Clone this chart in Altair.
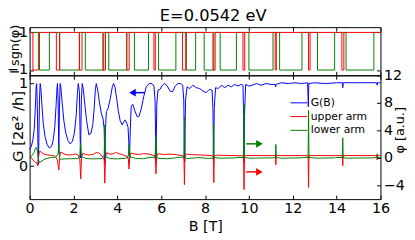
import altair as alt
import pandas as pd

# ---------------- values ----------------
B_ticks = [0, 2, 4, 6, 8, 10, 12, 14, 16]
G_ticks = [0, 1]
phi_ticks = [-4, 0, 4, 8, 12]
sgn_ticks = [-1, 1]

# G(B) (left axis, units 2e^2/h)
B_G = [0.00, 0.08, 0.15, 0.21, 0.26, 0.30, 0.32, 0.35, 0.38, 0.40,
       0.42, 0.45, 0.48, 0.51, 0.56, 0.62, 0.70, 0.80, 0.90, 1.00,
       1.08, 1.15, 1.21, 1.25, 1.27, 1.30, 1.33, 1.36, 1.39, 1.42,
       1.48, 1.56, 1.65, 1.75, 1.85, 1.95, 2.04, 2.12, 2.18, 2.22,
       2.27, 2.32, 2.36, 2.40, 2.45, 2.52, 2.60, 2.70, 2.80, 2.88,
       2.95, 3.00, 3.04, 3.10, 3.18, 3.27, 3.35, 3.40, 3.43, 3.46,
       3.50, 3.58, 3.68, 3.77, 3.83, 3.89, 3.97, 4.05, 4.13, 4.22,
       4.30, 4.36, 4.43, 4.49, 4.52, 4.55, 4.58, 4.63, 4.70, 4.80,
       4.90, 4.98, 5.08, 5.20, 5.32, 5.45, 5.58, 5.67, 5.72, 5.76,
       5.80, 5.85, 5.95, 6.05, 6.15, 6.28, 6.40, 6.52, 6.62, 6.75,
       6.88, 6.98, 7.03, 7.07, 7.11, 7.18, 7.30, 7.45, 7.60, 7.75,
       7.90, 8.05, 8.20, 8.32, 8.36, 8.39, 8.42, 8.48, 8.60, 8.75,
       8.90, 9.05, 9.20, 9.35, 9.50, 9.65, 9.73, 9.76, 9.78, 9.80,
       9.85, 10.00, 10.15, 10.35, 10.55, 10.78, 11.00, 11.20, 11.22, 11.24,
       11.50, 11.80, 12.10, 12.40, 12.68, 12.71, 12.73, 13.00, 13.50, 14.00,
       14.26, 14.28, 14.30, 14.80, 15.30, 15.83, 15.85, 15.87, 16.00]
G_vals = [0.20, 0.24, 0.32, 0.45, 0.70, 0.97, 1.00, 0.75, 0.25, 0.02,
          0.30, 0.80, 1.00, 0.95, 0.75, 0.52, 0.36, 0.26, 0.22, 0.24,
          0.32, 0.48, 0.75, 0.95, 1.00, 0.80, 0.15, 0.70, 1.00, 0.97,
          0.78, 0.55, 0.40, 0.31, 0.27, 0.30, 0.40, 0.60, 0.88, 1.00,
          0.90, 0.10, 0.80, 1.00, 0.93, 0.74, 0.55, 0.38, 0.40, 0.50,
          0.72, 0.93, 1.00, 0.93, 0.78, 0.64, 0.57, 0.45, 0.03, 0.45,
          0.66, 0.70, 0.82, 0.96, 1.00, 0.96, 0.82, 0.66, 0.55, 0.50,
          0.54, 0.56, 0.52, 0.47, 0.30, 0.03, 0.35, 0.72, 0.75, 0.67,
          0.60, 0.60, 0.68, 0.84, 0.96, 1.00, 1.00, 0.97, 0.80, 0.05,
          0.75, 0.92, 0.93, 0.98, 1.00, 0.97, 0.91, 0.90, 0.96, 1.00,
          1.00, 0.98, 0.80, 0.05, 0.80, 0.96, 0.94, 0.98, 0.95, 0.94,
          0.91, 0.89, 0.93, 0.92, 0.70, 0.05, 0.70, 0.95, 0.94, 0.98,
          0.95, 0.98, 0.96, 0.99, 0.97, 0.99, 0.98, 0.60, 0.05, 0.60,
          0.99, 0.97, 0.98, 1.00, 0.98, 1.00, 0.99, 0.99, 0.96, 0.99,
          1.01, 1.00, 1.01, 1.00, 1.01, 0.72, 1.00, 1.01, 1.00, 1.01,
          1.01, 0.95, 1.01, 1.01, 1.01, 1.01, 0.98, 1.01, 1.01]

# phi of the upper arm (right axis)
B_up = [0.00, 0.07, 0.15, 0.25, 0.33, 0.37, 0.40, 0.44, 0.48, 0.56,
        0.66, 0.80, 1.00, 1.12, 1.20, 1.27, 1.33, 1.37, 1.41, 1.50,
        1.62, 1.80, 1.95, 2.08, 2.20, 2.29, 2.33, 2.37, 2.42, 2.55,
        2.72, 2.90, 3.03, 3.15, 3.28, 3.40, 3.43, 3.46, 3.52, 3.65,
        3.80, 3.92, 4.05, 4.25, 4.45, 4.51, 4.53, 4.56, 4.62, 4.80,
        5.00, 5.20, 5.45, 5.70, 5.74, 5.76, 5.79, 5.85, 6.10, 6.40,
        6.70, 7.00, 7.04, 7.06, 7.08, 7.15, 7.50, 8.00, 8.36, 8.38,
        8.40, 8.42, 8.50, 9.00, 9.74, 9.76, 9.78, 9.80, 9.88, 10.50,
        11.21, 11.23, 11.25, 12.00, 12.70, 12.72, 12.74, 13.50, 14.26, 14.28,
        14.30, 15.83, 15.85, 15.87, 16.00]
phi_up = [0.30, 0.05, -0.30, -0.65, -0.75, -1.14, 0.00, 0.85, 1.00, 0.75,
          0.55, 0.42, 0.35, 0.30, 0.10, -0.40, -1.76, 0.10, 0.85, 0.70,
          0.50, 0.40, 0.48, 0.58, 0.45, -0.20, -3.05, 0.10, 0.65, 0.50,
          0.42, 0.50, 0.78, 0.70, 0.40, -0.30, -3.67, 0.10, 0.75, 0.55,
          0.60, 0.80, 0.62, 0.45, 0.20, -0.30, -1.62, 0.10, 0.70, 0.55,
          0.50, 0.62, 0.55, 0.30, -0.30, -2.33, 0.20, 0.60, 0.48, 0.55,
          0.45, 0.30, -0.30, -3.90, 0.20, 0.55, 0.45, 0.40, 0.30, -0.30,
          -3.60, 0.20, 0.40, 0.35, 0.30, -0.30, -4.60, 0.20, 0.35, 0.33,
          0.33, -1.00, 0.33, 0.33, 0.33, -4.30, 0.33, 0.33, 0.33, -1.14,
          0.33, 0.33, -0.30, 0.33, 0.33]

# phi of the lower arm (right axis)
B_low = [0.00, 0.10, 0.20, 0.28, 0.33, 0.37, 0.41, 0.45, 0.52, 0.65,
         0.80, 0.90, 1.05, 1.20, 1.30, 1.33, 1.36, 1.42, 1.60, 1.90,
         2.20, 2.29, 2.33, 2.37, 2.50, 2.56, 2.90, 3.30, 3.40, 3.43,
         3.46, 3.58, 3.64, 4.00, 4.40, 4.50, 4.54, 4.57, 4.75, 4.82,
         5.20, 5.45, 5.72, 5.76, 5.80, 5.90, 6.30, 6.65, 6.70, 7.03,
         7.06, 7.09, 7.17, 7.55, 7.60, 7.95, 8.00, 8.37, 8.39, 8.41,
         8.70, 9.40, 9.45, 9.76, 9.78, 9.80, 10.05, 11.10, 11.15, 11.21,
         11.23, 11.25, 11.45, 12.40, 12.45, 12.70, 12.72, 12.74, 13.15, 13.90,
         13.95, 14.26, 14.28, 14.30, 14.45, 15.70, 15.75, 15.83, 15.85, 15.87,
         16.00]
phi_low = [0.00, 0.30, 0.80, 1.50, 1.40, 0.60, -0.30, -0.70, -0.55, -0.25,
           -0.08, 0.00, 0.08, 0.12, 0.60, 1.90, -0.10, -0.20, -0.15, -0.12,
           -0.10, 0.30, 2.10, 0.10, 0.05, -0.10, -0.15, -0.10, 0.40, 4.80,
           0.15, 0.05, -0.10, -0.15, -0.05, 0.30, 1.90, 0.10, 0.05, -0.10,
           -0.12, 0.05, 0.10, 3.10, 0.05, -0.10, -0.12, 0.00, 0.06, 0.10,
           5.90, 0.05, -0.10, 0.00, 0.05, 0.00, -0.08, -0.05, 4.80, 0.05,
           -0.05, 0.00, 0.05, 0.05, 7.90, 0.05, -0.05, 0.00, 0.05, 0.05,
           1.95, 0.05, -0.05, 0.00, 0.05, 0.05, 6.90, 0.05, -0.05, 0.00,
           0.05, 0.05, 2.90, 0.05, -0.05, 0.00, 0.05, 0.05, 0.60, 0.05,
           0.05]

# I sgn(phi) step panels: switching fields and the value after each switch
sgn_up_B = [0.00, 0.15, 0.40, 1.22, 1.37, 2.27, 2.39, 3.34, 3.46, 4.43,
            4.54, 5.67, 5.73, 6.97, 7.12, 8.36, 8.46, 9.73, 9.81, 11.20,
            11.25, 12.72, 12.79, 14.24, 14.33, 16.00]
sgn_up = [1, -1, 1, -1, 1, -1, 1, -1, 1, -1,
          1, -1, 1, -1, 1, -1, 1, -1, 1, -1,
          1, -1, 1, -1, 1, 1]
sgn_low_B = [0.00, 0.45, 0.90, 1.37, 2.27, 2.54, 3.38, 3.61, 4.43, 4.78,
             5.42, 5.88, 6.67, 7.15, 7.57, 7.96, 8.40, 8.69, 9.43, 10.00,
             11.10, 11.40, 12.42, 13.13, 13.91, 14.43, 15.70, 16.00]
sgn_low = [1, -1, 1, -1, 1, -1, 1, -1, 1, -1,
           1, -1, 1, -1, 1, -1, 1, -1, 1, -1,
           1, -1, 1, -1, 1, -1, 1, 1]

# arrows (tail, head centre, level)
arrow_tail_B = [5.25, 9.88, 9.88]
arrow_head_B = [4.69, 10.48, 10.48]
arrow_level = [0.89, 2.04, -2.04]   # first in G units, others in phi units

series_names = ["G(B)", "upper arm", "lower arm"]
series_colors = ["#0000ff", "#ff0000", "#008000"]

# ---------------- chart ----------------
FONT = "DejaVu Sans"
xs = alt.Scale(domain=[0, 16], nice=False, zero=False)
ys_sgn = alt.Scale(domain=[-1.28, 1.28], nice=False, zero=False)
ys_G = alt.Scale(domain=[-0.4, 1.1], nice=False, zero=False)
ys_phi = alt.Scale(domain=[-6, 12], nice=False, zero=False)


def ax(**kw):
    base = dict(domain=False, offset=-4, tickSize=4, tickColor="black",
                tickWidth=1, labelFontSize=14.5, labelColor="black",
                labelFont=FONT, titleFont=FONT, titleColor="black",
                titleFontWeight="normal", grid=False, labelFlush=False,
                minExtent=0)
    base.update(kw)
    return alt.Axis(**base)


W = 357
# ---- top panel ----
sgn_up_df = pd.DataFrame({"B": sgn_up_B, "s": sgn_up})
sgn_low_df = pd.DataFrame({"B": sgn_low_B, "s": sgn_low})

top_low = alt.Chart(sgn_low_df).mark_line(
    interpolate="step-after", color=series_colors[2], strokeWidth=1
).encode(
    x=alt.X("B:Q", scale=xs, axis=ax(values=B_ticks, labels=False, title=None, orient="bottom")),
    y=alt.Y("s:Q", scale=ys_sgn, axis=ax(values=sgn_ticks, orient="left", labelPadding=2,
                                          title="I sgn(φ)", titleFontSize=13, titleAngle=270,
                                          titleX=-19, titleY=22, titleAlign="center",
                                          titleBaseline="middle")),
)
top_up = alt.Chart(sgn_up_df).mark_line(
    interpolate="step-after", color=series_colors[1], strokeWidth=1
).encode(
    x=alt.X("B:Q", scale=xs, axis=ax(values=B_ticks, labels=False, title=None, orient="top")),
    y=alt.Y("s:Q", scale=ys_sgn, axis=ax(values=sgn_ticks, labels=False, title=None, orient="right")),
)
top = alt.layer(top_low, top_up).resolve_axis(x="independent", y="independent").properties(
    width=W, height=49)

# ---- bottom panel ----
G_df = pd.DataFrame({"B": B_G, "G": G_vals, "series": series_names[0]})
up_df = pd.DataFrame({"B": B_up, "phi": phi_up, "series": series_names[1]})
low_df = pd.DataFrame({"B": B_low, "phi": phi_low, "series": series_names[2]})

legend = alt.Legend(title=None, orient="none", legendX=265, legendY=19,
                    symbolType="stroke", symbolSize=289, symbolStrokeWidth=1,
                    labelFontSize=11, labelFont=FONT, labelColor="black",
                    rowPadding=0, labelOffset=3, padding=0)
color = alt.Color("series:N", scale=alt.Scale(domain=series_names, range=series_colors),
                  legend=legend)

blue = alt.Chart(G_df).mark_line(strokeWidth=1).encode(
    x=alt.X("B:Q", scale=xs, axis=ax(values=B_ticks, format="d", orient="bottom",
                                      labelPadding=3, title="B [T]", titleFontSize=14.5,
                                      titleX=178.8, titleY=31.5, titleAlign="center",
                                      titleBaseline="middle")),
    y=alt.Y("G:Q", scale=ys_G, axis=ax(values=G_ticks, orient="left", labelPadding=2,
                                        title="G [2e² /h]", titleFontSize=15, titleAngle=270,
                                        titleX=-16.7, titleY=51.5, titleAlign="center",
                                        titleBaseline="middle")),
    color=color,
)
red = alt.Chart(up_df).mark_line(strokeWidth=1).encode(
    x=alt.X("B:Q", scale=xs, axis=ax(values=B_ticks, labels=False, title=None, orient="top")),
    y=alt.Y("phi:Q", scale=ys_phi, axis=ax(values=phi_ticks, orient="right", labelPadding=3,
                                            title="φ [a.u.]", titleFontSize=13, titleAngle=270,
                                            titleX=23, titleY=55.5, titleAlign="center",
                                            titleBaseline="middle")),
    color=color,
)
green = alt.Chart(low_df).mark_line(strokeWidth=1).encode(
    x=alt.X("B:Q", scale=xs, axis=None),
    y=alt.Y("phi:Q", scale=ys_phi, axis=None),
    color=color,
)

# arrows: blue one in G units, the two others in phi units
blue_arrow_df = pd.DataFrame({"B0": [arrow_tail_B[0]], "B1": [arrow_head_B[0]], "v": [arrow_level[0]]})
green_arrow_df = pd.DataFrame({"B0": [arrow_tail_B[1]], "B1": [arrow_head_B[1]], "v": [arrow_level[1]]})
red_arrow_df = pd.DataFrame({"B0": [arrow_tail_B[2]], "B1": [arrow_head_B[2]], "v": [arrow_level[2]]})


def arrow(df, ysc, col, shape):
    shaft = alt.Chart(df).mark_rule(color=col, strokeWidth=1.5).encode(
        x=alt.X("B0:Q", scale=xs, axis=None), x2="B1:Q",
        y=alt.Y("v:Q", scale=ysc, axis=None))
    head = alt.Chart(df).mark_point(shape=shape, filled=True, size=60, color=col, opacity=1).encode(
        x=alt.X("B1:Q", scale=xs, axis=None), y=alt.Y("v:Q", scale=ysc, axis=None))
    return [shaft, head]


layers = [blue, red, green]
layers += arrow(blue_arrow_df, ys_G, series_colors[0], "triangle-left")
layers += arrow(green_arrow_df, ys_phi, series_colors[2], "triangle-right")
layers += arrow(red_arrow_df, ys_phi, series_colors[1], "triangle-right")

bottom = alt.layer(*layers).resolve_scale(y="independent").resolve_axis(
    x="independent", y="independent").properties(width=W, height=126)

chart = alt.vconcat(top, bottom, spacing=0, bounds="flush").resolve_scale(color="independent").properties(
    title=alt.TitleParams("E=0.0542 eV", fontSize=16.5, font=FONT, fontWeight="normal",
                          anchor="middle", color="black", offset=-0.5, dx=7),
    padding={"left": -2, "top": -2.5, "right": 0, "bottom": 0},
).configure(font=FONT).configure_view(stroke="black", strokeWidth=1)

chart.save("out.html", embed_options={"renderer": "svg", "actions": False})
